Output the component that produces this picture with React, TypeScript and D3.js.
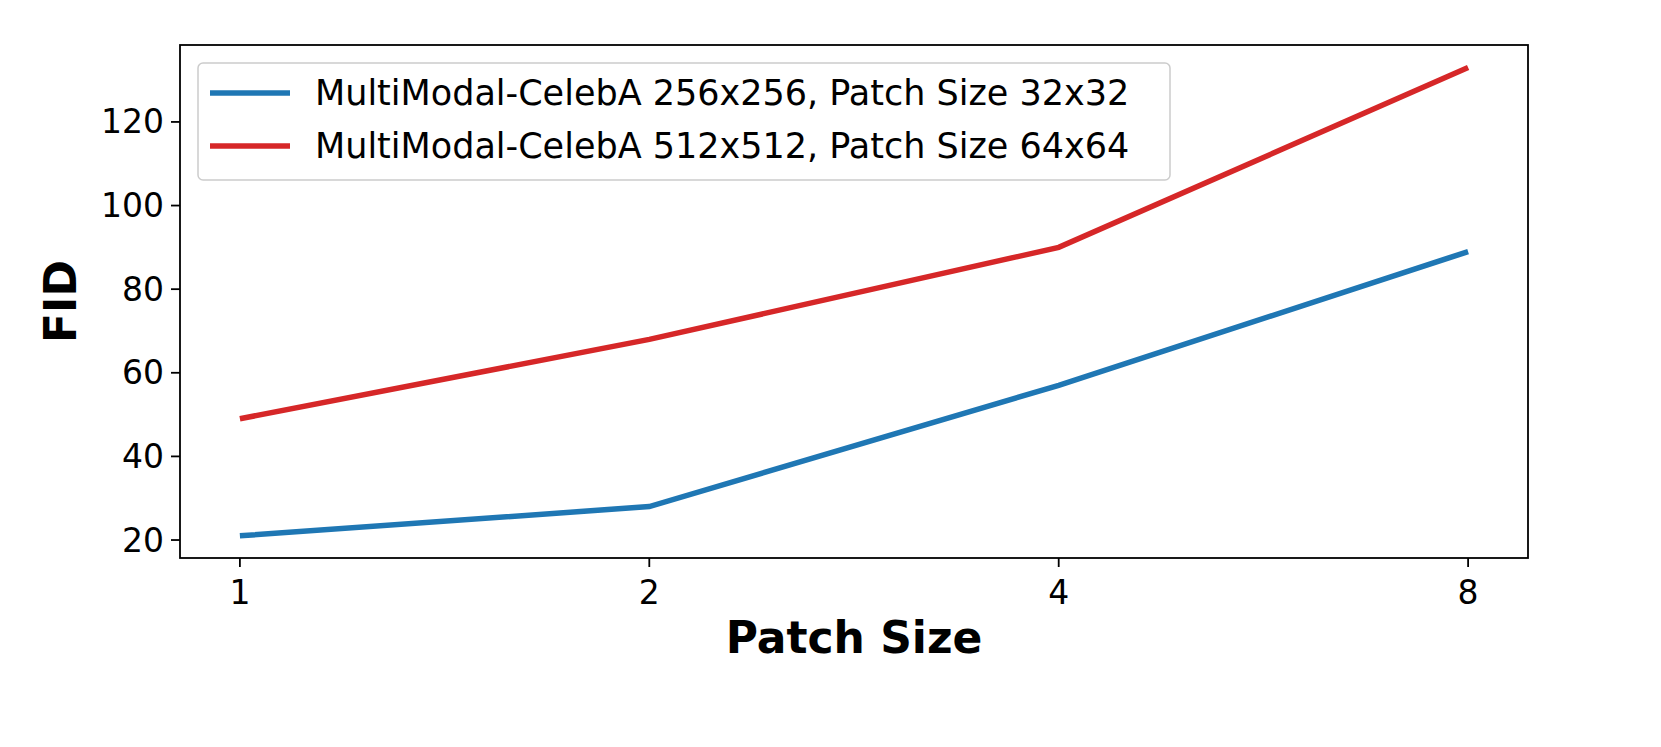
import * as d3 from "d3";
import React from "react";

const categories = ["1", "2", "4", "8"];
const blueValues = [21, 28, 57, 89];
const redValues = [49, 68, 90, 133];
const yTicks = [20, 40, 60, 80, 100, 120];
const seriesNames = [
  "MultiModal-CelebA 256x256, Patch Size 32x32",
  "MultiModal-CelebA 512x512, Patch Size 64x64",
];
const colors = ["#1f77b4", "#d62728"];

const W = 1661;
const H = 747;
const margin = { top: 45, right: 133, bottom: 189, left: 180 };
const font = "DejaVu Sans, sans-serif";

const App: React.FC = () => {
  const x = d3
    .scaleLinear()
    .domain([-0.1463, 3.1463])
    .range([margin.left, W - margin.right]);
  const y = d3
    .scaleLinear()
    .domain([15.7, 138.4])
    .range([H - margin.bottom, margin.top]);

  const line = d3
    .line<number>()
    .x((_, i) => x(i))
    .y((d) => y(d));

  const series = [blueValues, redValues];

  return (
    <svg width={W} height={H} style={{ position: "absolute", left: 0, top: 0, background: "#fff" }}>
      {series.map((s, k) => (
        <path key={k} d={line(s)!} fill="none" stroke={colors[k]} strokeWidth={5.5} />
      ))}
      <rect
        x={margin.left}
        y={margin.top}
        width={W - margin.left - margin.right}
        height={H - margin.top - margin.bottom}
        fill="none"
        stroke="#000"
        strokeWidth={1.8}
      />
      {categories.map((c, i) => (
        <g key={c}>
          <line x1={x(i)} x2={x(i)} y1={H - margin.bottom} y2={H - margin.bottom + 9} stroke="#000" strokeWidth={1.8} />
          <text x={x(i)} y={H - margin.bottom + 46} textAnchor="middle" fontFamily={font} fontSize={33}>
            {c}
          </text>
        </g>
      ))}
      {yTicks.map((t) => (
        <g key={t}>
          <line x1={margin.left - 9} x2={margin.left} y1={y(t)} y2={y(t)} stroke="#000" strokeWidth={1.8} />
          <text x={margin.left - 16} y={y(t)} dy="0.35em" textAnchor="end" fontFamily={font} fontSize={33}>
            {t}
          </text>
        </g>
      ))}
      <text x={854} y={653} textAnchor="middle" fontFamily={font} fontSize={44} fontWeight="bold">
        Patch Size
      </text>
      <text
        transform={`translate(76,${(margin.top + H - margin.bottom) / 2}) rotate(-90)`}
        textAnchor="middle"
        fontFamily={font}
        fontSize={44}
        fontWeight="bold"
      >
        FID
      </text>
      <rect x={198} y={63} width={972} height={117} rx={5} fill="#fff" fillOpacity={0.8} stroke="#ccc" strokeWidth={1.5} />
      {seriesNames.map((n, k) => (
        <g key={n}>
          <line x1={210} x2={290} y1={93 + k * 53} y2={93 + k * 53} stroke={colors[k]} strokeWidth={5.5} />
          <text x={315} y={93 + k * 53} dy="0.35em" fontFamily={font} fontSize={35}>
            {n}
          </text>
        </g>
      ))}
    </svg>
  );
};

export default App;
